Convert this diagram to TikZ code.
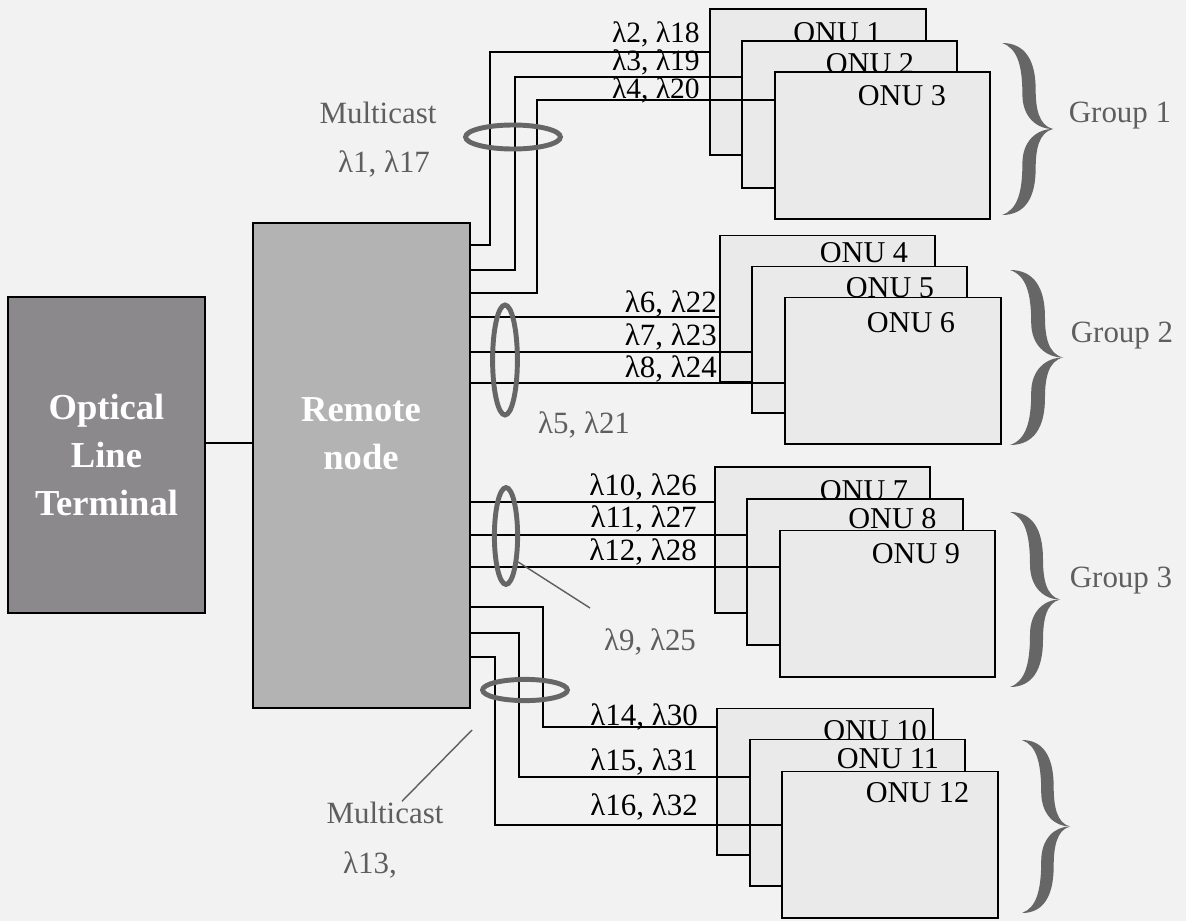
\documentclass[tikz,border=0pt]{standalone}
\usepackage{fontspec}
\setmainfont{Liberation Serif}
\usetikzlibrary{shapes.geometric}

\definecolor{paper}{HTML}{F2F2F2}
\definecolor{oltgrey}{HTML}{8C898D}
\definecolor{rngrey}{HTML}{B3B3B3}
\definecolor{onugrey}{HTML}{EAEAEA}
\definecolor{ringgrey}{HTML}{666666}
\definecolor{notegrey}{HTML}{5E5E5E}

\tikzset{
  fibre/.style={line width=1.4pt, black},
  onubox/.style={draw, line width=1.4pt, fill=onugrey, minimum width=5.375cm, minimum height=3.65cm, inner sep=0pt},
  onutext/.style={anchor=base, inner sep=0pt, font=\fontsize{21.5}{24}\selectfont},
  lamtext/.style={anchor=base east, inner sep=0pt, font=\fontsize{22}{24}\selectfont},
  note/.style={anchor=base, inner sep=0pt, text=notegrey, font=\fontsize{22}{24}\selectfont},
  ring/.style={draw=ringgrey, ellipse, line width=3.5pt, inner sep=0pt},
  pointer/.style={line width=1pt, notegrey},
  bigbox/.style={draw, line width=1.5pt, inner sep=0pt, text=white, align=center, font=\fontsize{26}{34}\selectfont\bfseries},
  % chave caligrafica: 1 x 1 (ponta para a direita, y para baixo)
  groupbrace/.pic={
    \fill[ringgrey] (0,0) .. controls (0.45,0) and (0.66,0.1) .. (0.66,0.27)
      .. controls (0.66,0.38) and (0.72,0.48) .. (1,0.5)
      .. controls (0.68,0.5) and (0.40,0.43) .. (0.40,0.3)
      .. controls (0.40,0.13) and (0.3,0.03) .. (0,0) -- cycle;
    \fill[ringgrey] (0,1) .. controls (0.45,1) and (0.66,0.9) .. (0.66,0.73)
      .. controls (0.66,0.62) and (0.72,0.52) .. (1,0.5)
      .. controls (0.68,0.5) and (0.40,0.57) .. (0.40,0.7)
      .. controls (0.40,0.87) and (0.3,0.97) .. (0,1) -- cycle;
  }
}

\begin{document}
\begin{tikzpicture}[x=0.025cm, y=-0.025cm]
    % 1. FUNDO (tamanho da figura em pixels)
    \fill[paper] (0,0) rectangle (1186,921);
    \useasboundingbox (0,0) rectangle (1186,921);

    % ==========================================
    % 2. OLT E NO REMOTO
    % ==========================================
    \node[bigbox, fill=oltgrey, minimum width=4.925cm, minimum height=7.9cm] (olt) at (106.5,455) {Optical\\Line\\Terminal};
    \node[bigbox, fill=rngrey, minimum width=5.425cm, minimum height=12.125cm] (rn) at (361.5,465.5) {};
    \node[bigbox, draw=none] (rntext) at (361,434) {Remote\\node};
    \draw[fibre] (olt.east |- 0,443) -- (rn.west |- 0,443);

    % ==========================================
    % 3. ONUs (cada caixa tapa parte da anterior)
    % ==========================================
    \node[onubox] (onu1) at (818,82) {};
    \node[onutext] (name1) at (837.5,42) {ONU 1};
    \node[onubox] (onu2) at (849.5,114.5) {};
    \node[onutext] (name2) at (870,73) {ONU 2};
    \node[onubox] (onu3) at (882.5,145.5) {};
    \node[onutext] (name3) at (902,105) {ONU 3};

    \node[onubox] (onu4) at (827.5,308.5) {};
    \node[onutext] (name4) at (864,262) {ONU 4};
    \node[onubox] (onu5) at (859.5,339.5) {};
    \node[onutext] (name5) at (890,297) {ONU 5};
    \node[onubox] (onu6) at (893,370.5) {};
    \node[onutext] (name6) at (911,332) {ONU 6};

    \node[onubox] (onu7) at (822.5,540) {};
    \node[onutext] (name7) at (864,500) {ONU 7};
    \node[onubox] (onu8) at (855,572) {};
    \node[onutext] (name8) at (892.5,528) {ONU 8};
    \node[onubox] (onu9) at (887.5,603.5) {};
    \node[onutext] (name9) at (916,563) {ONU 9};

    \node[onubox] (onu10) at (825,781.5) {};
    \node[onutext] (name10) at (875,740) {ONU 10};
    \node[onubox] (onu11) at (857.5,812.5) {};
    \node[onutext] (name11) at (888,768) {ONU 11};
    \node[onubox] (onu12) at (890,844.5) {};
    \node[onutext] (name12) at (917.5,802) {ONU 12};

    % ==========================================
    % 4. FIBRAS DO NO REMOTO ATE AS ONUs
    % ==========================================
    % Grupo 1 (sobe)
    \draw[fibre] (rn.east |- 0,245) -| (490,52) -- (onu1.west |- 0,52);
    \draw[fibre] (rn.east |- 0,270) -| (515,77) -- (onu2.west |- 0,77);
    \draw[fibre] (rn.east |- 0,293) -| (537,100) -- (onu3.west |- 0,100);
    % Grupo 2 e 3 (retas)
    \draw[fibre] (rn.east |- 0,317) -- (onu4.west |- 0,317);
    \draw[fibre] (rn.east |- 0,352) -- (onu5.west |- 0,352);
    \draw[fibre] (rn.east |- 0,383) -- (onu6.west |- 0,383);
    \draw[fibre] (rn.east |- 0,502) -- (onu7.west |- 0,502);
    \draw[fibre] (rn.east |- 0,535) -- (onu8.west |- 0,535);
    \draw[fibre] (rn.east |- 0,567) -- (onu9.west |- 0,567);
    % Grupo 4 (desce)
    \draw[fibre] (rn.east |- 0,607) -| (543,727) -- (onu10.west |- 0,727);
    \draw[fibre] (rn.east |- 0,633) -| (519,777) -- (onu11.west |- 0,777);
    \draw[fibre] (rn.east |- 0,657) -| (495,825) -- (onu12.west |- 0,825);

    % Comprimentos de onda sobre cada fibra
    \node[lamtext, font=\fontsize{21}{24}\selectfont] (wl2) at (700,42) {λ2, λ18};
    \node[lamtext, font=\fontsize{21}{24}\selectfont] (wl3) at (700,70.5) {λ3, λ19};
    \node[lamtext, font=\fontsize{21}{24}\selectfont] (wl4) at (700,98) {λ4, λ20};
    \node[lamtext] (wl6) at (717,312) {λ6, λ22};
    \node[lamtext] (wl7) at (717,345) {λ7, λ23};
    \node[lamtext] (wl8) at (717,377) {λ8, λ24};
    \node[lamtext] (wl10) at (697,495) {λ10, λ26};
    \node[lamtext] (wl11) at (697,527) {λ11, λ27};
    \node[lamtext] (wl12) at (697,560) {λ12, λ28};
    \node[lamtext] (wl14) at (698,725) {λ14, λ30};
    \node[lamtext] (wl15) at (698,770) {λ15, λ31};
    \node[lamtext] (wl16) at (698,815) {λ16, λ32};

    % ==========================================
    % 5. ANEIS MULTICAST E NOTAS
    % ==========================================
    \node[ring, minimum width=2.37cm, minimum height=0.6cm] (ring1) at (513,137) {};
    \node[ring, minimum width=0.62cm, minimum height=2.75cm] (ring2) at (505,360) {};
    \node[ring, minimum width=0.58cm, minimum height=2.42cm] (ring3) at (506,536) {};
    \node[ring, minimum width=2.12cm, minimum height=0.53cm] (ring4) at (525,690) {};

    \node[note] (mcast1) at (378,123) {Multicast};
    \node[note] (mw1) at (384,172) {λ1, λ17};
    \node[note] (mw5) at (584,433) {λ5, λ21};
    \node[note] (mw9) at (650,650) {λ9, λ25};
    \node[note] (mcast2) at (385,823) {Multicast};
    \node[note] (mw13) at (370,873) {λ13,};

    \coordinate (tip9) at (590,608);
    \coordinate (tip13) at (472,730);
    \draw[pointer] (ring3.-65) -- (tip9);
    \draw[pointer] (tip13) -- (mcast2.north -| 402,0);

    % ==========================================
    % 6. CHAVES DOS GRUPOS
    % ==========================================
    \pic[xscale=51, yscale=172] (brace1) at (1002,43) {groupbrace};
    \pic[xscale=53, yscale=175] (brace2) at (1010,270) {groupbrace};
    \pic[xscale=50, yscale=175] (brace3) at (1010,512) {groupbrace};
    \pic[xscale=48, yscale=173] (brace4) at (1022,740) {groupbrace};
    \node[note] (grp1) at (1120,122) {Group 1};
    \node[note] (grp2) at (1122,342) {Group 2};
    \node[note] (grp3) at (1121,587) {Group 3};

\end{tikzpicture}
\end{document}
